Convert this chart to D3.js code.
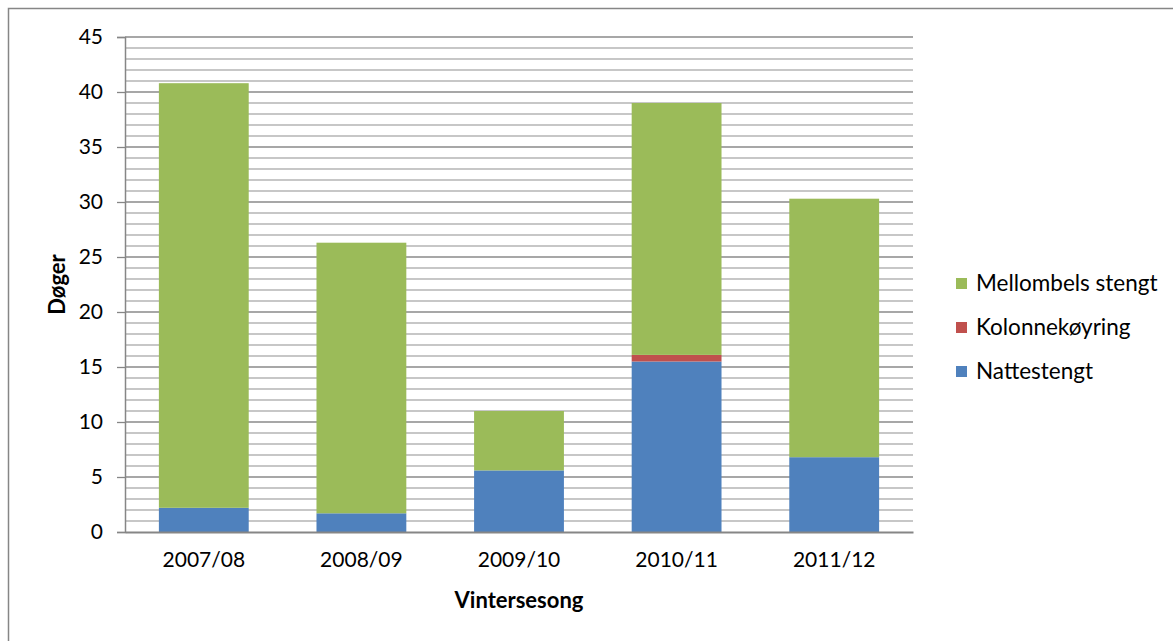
<!DOCTYPE html>
<html>
<head>
<meta charset="utf-8">
<script src="https://cdn.jsdelivr.net/npm/d3@7"></script>
<style>
  body { margin: 0; background: #fff; }
  text { font-family: Lato, "Open Sans", sans-serif; fill: #000; }
</style>
</head>
<body>
<div id="chart"></div>
<script>
// Vintersesong / døger
const seasons = ["2007/08", "2008/09", "2009/10", "2010/11", "2011/12"];
const nattestengt = [2.2, 1.7, 5.6, 15.5, 6.8];
const kolonnekoyring = [0, 0, 0, 0.6, 0];
const mellombels = [38.6, 24.6, 5.4, 22.9, 23.5];
const seriesNames = ["Nattestengt", "Kolonnekøyring", "Mellombels stengt"];
const seriesColors = ["#4F81BD", "#C0504D", "#9BBB59"];
const yTicks = [0, 5, 10, 15, 20, 25, 30, 35, 40, 45];

const W = 1173, H = 641;
const margin = { top: 37, right: 260, bottom: 109, left: 125 };
const width = W - margin.left - margin.right,
      height = H - margin.top - margin.bottom;

const svg = d3.select("#chart")
  .append("svg")
  .attr("width", W)
  .attr("height", H);

// outer frame (right/bottom edges fall outside the picture)
svg.append("rect")
  .attr("x", 8.5).attr("y", 8.5)
  .attr("width", W).attr("height", H)
  .attr("fill", "none")
  .attr("stroke", "#868686")
  .attr("stroke-width", 1.5);

const g = svg.append("g")
  .attr("transform", `translate(${margin.left},${margin.top})`);

const rows = seasons.map((s, i) => ({
  season: s,
  "Nattestengt": nattestengt[i],
  "Kolonnekøyring": kolonnekoyring[i],
  "Mellombels stengt": mellombels[i]
}));

const x = d3.scaleBand()
  .domain(seasons)
  .range([0, width])
  .paddingInner(0.43)
  .paddingOuter(0.215);

const y = d3.scaleLinear()
  .domain([0, 45])
  .range([height, 0]);

const color = d3.scaleOrdinal().domain(seriesNames).range(seriesColors);

// minor gridlines every 1
g.append("g")
  .selectAll("line")
  .data(d3.range(1, 45).filter(v => v % 5 !== 0))
  .join("line")
  .attr("x1", 0).attr("x2", width)
  .attr("y1", d => y(d)).attr("y2", d => y(d))
  .attr("stroke", "#b5b5b5")
  .attr("stroke-width", 1.3);

// major gridlines
g.append("g")
  .selectAll("line")
  .data(yTicks.filter(v => v > 0))
  .join("line")
  .attr("x1", 0).attr("x2", width)
  .attr("y1", d => y(d)).attr("y2", d => y(d))
  .attr("stroke", "#8a8a8a")
  .attr("stroke-width", 1.3);

const stack = d3.stack().keys(seriesNames);
const layers = stack(rows);

g.append("g")
  .selectAll("g")
  .data(layers)
  .join("g")
  .attr("fill", d => color(d.key))
  .selectAll("rect")
  .data(d => d.filter(p => p[1] - p[0] > 0))
  .join("rect")
  .attr("x", d => x(d.data.season))
  .attr("y", d => y(d[1]))
  .attr("width", x.bandwidth())
  .attr("height", d => y(d[0]) - y(d[1]));

// y axis
const yAxis = g.append("g")
  .call(d3.axisLeft(y).tickValues(yTicks).tickSize(8).tickPadding(14));
yAxis.select(".domain").attr("stroke", "#868686").attr("stroke-width", 1.5);
yAxis.selectAll(".tick line").attr("stroke", "#868686").attr("stroke-width", 1.3);
yAxis.selectAll("text")
  .attr("font-size", "21px")
  .attr("font-family", "Lato, 'Open Sans', sans-serif")
  .attr("fill", "#000");

// x axis
const xAxis = g.append("g")
  .attr("transform", `translate(0,${height})`)
  .call(d3.axisBottom(x).tickSize(0).tickPadding(20));
xAxis.select(".domain").attr("stroke", "#868686").attr("stroke-width", 2);
xAxis.selectAll("text")
  .attr("font-size", "21px")
  .attr("font-family", "Lato, 'Open Sans', sans-serif")
  .attr("fill", "#000");

// axis titles
g.append("text")
  .attr("x", width / 2)
  .attr("y", height + 76)
  .attr("text-anchor", "middle")
  .attr("font-size", "22px")
  .attr("font-weight", "bold")
  .text("Vintersesong");

g.append("text")
  .attr("transform", "rotate(-90)")
  .attr("x", -height / 2)
  .attr("y", -60)
  .attr("text-anchor", "middle")
  .attr("font-size", "22px")
  .attr("font-weight", "bold")
  .text("Døger");

// legend (top entry = top of stack)
const legend = svg.append("g").attr("transform", "translate(956, 283)");
seriesNames.slice().reverse().forEach((name, i) => {
  legend.append("rect")
    .attr("x", 0)
    .attr("y", i * 44 - 5)
    .attr("width", 11)
    .attr("height", 11)
    .attr("fill", color(name));
  legend.append("text")
    .attr("x", 20)
    .attr("y", i * 44)
    .attr("dy", "0.35em")
    .attr("font-size", "22.5px")
    .text(name);
});
</script>
</body>
</html>
